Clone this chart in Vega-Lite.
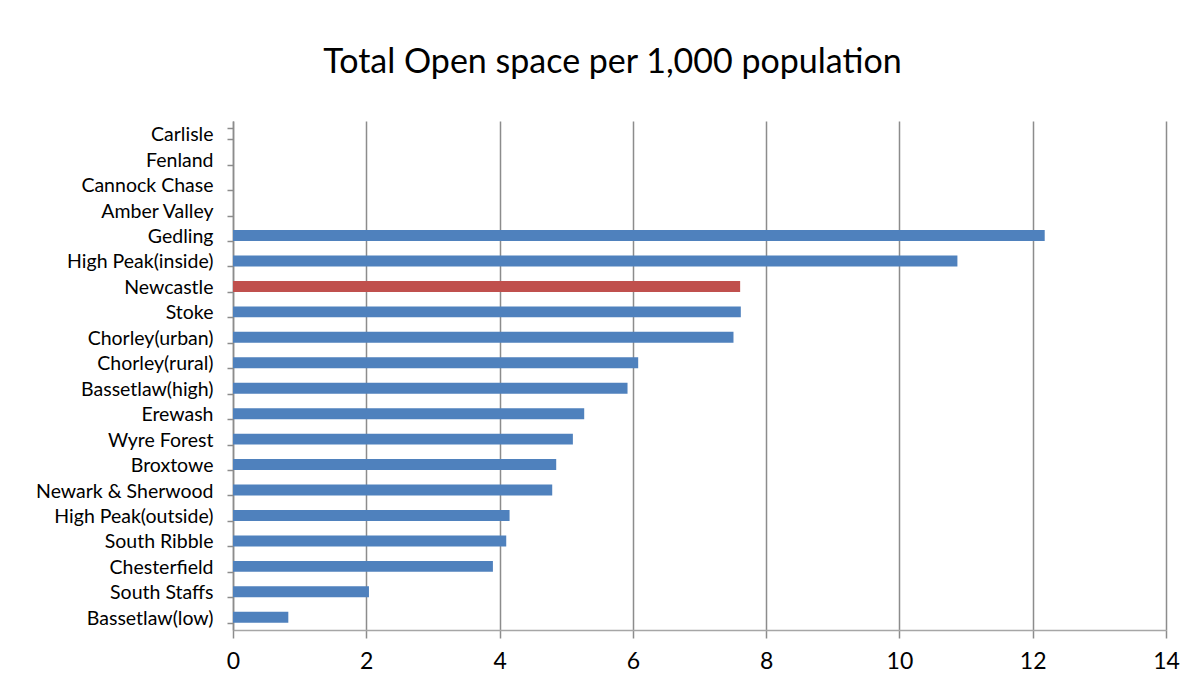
{
  "$schema": "https://vega.github.io/schema/vega-lite/v6.json",
  "autosize": {"type": "none"},
  "padding": {"left": 233, "top": 121, "right": 34, "bottom": 58},
  "width": 933,
  "height": 509,
  "background": "white",
  "title": {
    "text": "Total Open space per 1,000 population",
    "font": "Lato",
    "fontSize": 34,
    "fontWeight": "normal",
    "color": "#000000",
    "anchor": "middle",
    "dx": -87,
    "offset": 31
  },
  "data": {
    "values": [
      {"area": "Carlisle", "value": null, "group": "Other"},
      {"area": "Fenland", "value": null, "group": "Other"},
      {"area": "Cannock Chase", "value": null, "group": "Other"},
      {"area": "Amber Valley", "value": null, "group": "Other"},
      {"area": "Gedling", "value": 12.18, "group": "Other"},
      {"area": "High Peak(inside)", "value": 10.87, "group": "Other"},
      {"area": "Newcastle", "value": 7.61, "group": "Newcastle"},
      {"area": "Stoke", "value": 7.62, "group": "Other"},
      {"area": "Chorley(urban)", "value": 7.51, "group": "Other"},
      {"area": "Chorley(rural)", "value": 6.08, "group": "Other"},
      {"area": "Bassetlaw(high)", "value": 5.92, "group": "Other"},
      {"area": "Erewash", "value": 5.27, "group": "Other"},
      {"area": "Wyre Forest", "value": 5.10, "group": "Other"},
      {"area": "Broxtowe", "value": 4.85, "group": "Other"},
      {"area": "Newark & Sherwood", "value": 4.79, "group": "Other"},
      {"area": "High Peak(outside)", "value": 4.15, "group": "Other"},
      {"area": "South Ribble", "value": 4.10, "group": "Other"},
      {"area": "Chesterfield", "value": 3.90, "group": "Other"},
      {"area": "South Staffs", "value": 2.04, "group": "Other"},
      {"area": "Bassetlaw(low)", "value": 0.83, "group": "Other"}
    ]
  },
  "mark": {"type": "bar"},
  "encoding": {
    "y": {
      "field": "area",
      "type": "nominal",
      "sort": null,
      "scale": {
        "domain": ["Carlisle", "Fenland", "Cannock Chase", "Amber Valley", "Gedling", "High Peak(inside)", "Newcastle", "Stoke", "Chorley(urban)", "Chorley(rural)", "Bassetlaw(high)", "Erewash", "Wyre Forest", "Broxtowe", "Newark & Sherwood", "High Peak(outside)", "South Ribble", "Chesterfield", "South Staffs", "Bassetlaw(low)"],
        "paddingInner": 0.57,
        "paddingOuter": 0.285
      },
      "axis": {
        "title": null,
        "grid": false,
        "tickBand": "extent",
        "tickSize": 6,
        "tickColor": "#8c8c8c",
        "tickWidth": 1.5,
        "domainColor": "#8c8c8c",
        "domainWidth": 1.5,
        "labelFont": "Lato",
        "labelFontSize": 19.5,
        "labelColor": "#000000",
        "labelPadding": 14,
        "labelOffset": 1
      }
    },
    "x": {
      "field": "value",
      "type": "quantitative",
      "scale": {"domain": [0, 14], "nice": false},
      "axis": {
        "title": null,
        "values": [0, 2, 4, 6, 8, 10, 12, 14],
        "grid": true,
        "gridColor": "#8c8c8c",
        "gridWidth": 1.5,
        "tickSize": 8,
        "tickColor": "#8c8c8c",
        "tickWidth": 1.5,
        "domainColor": "#a6a6a6",
        "domainWidth": 1.5,
        "labelFont": "Lato",
        "labelFontSize": 23,
        "labelColor": "#000000",
        "labelPadding": 12,
        "labelFlush": false
      }
    },
    "color": {
      "field": "group",
      "type": "nominal",
      "scale": {"domain": ["Other", "Newcastle"], "range": ["#4F81BD", "#C0504D"]},
      "legend": null
    }
  },
  "config": {
    "view": {"stroke": null}
  }
}
